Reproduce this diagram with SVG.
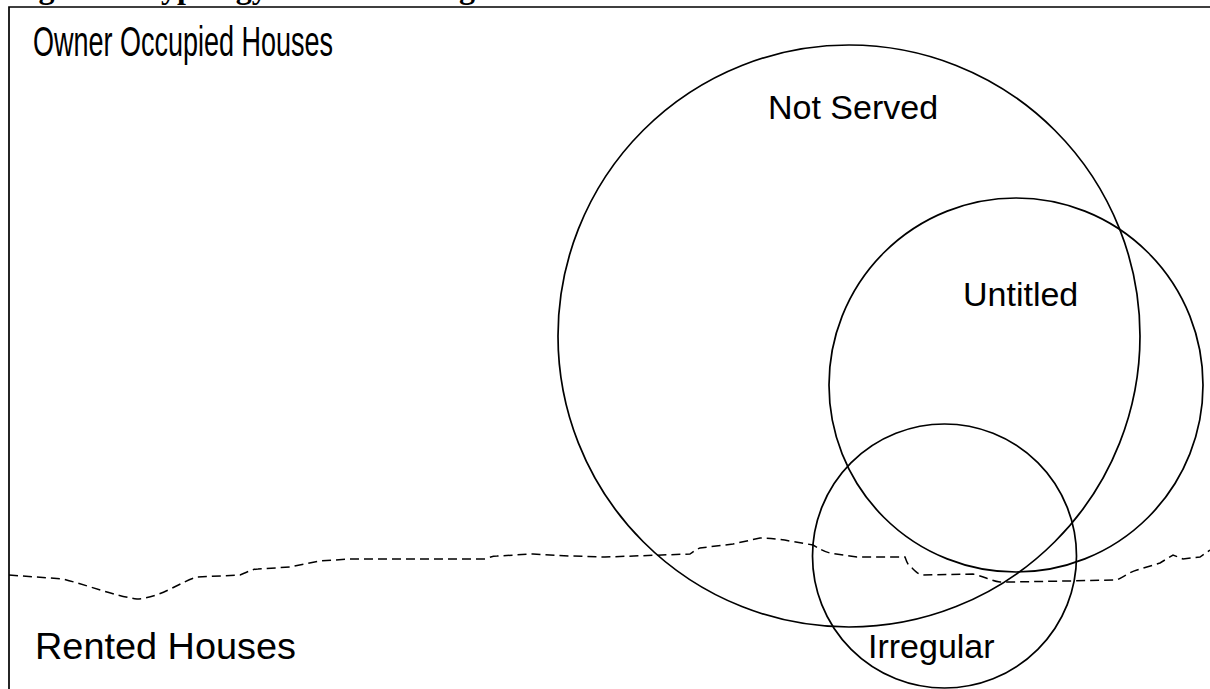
<svg xmlns="http://www.w3.org/2000/svg" width="1210" height="689" viewBox="0 0 1210 689">
<style>
.lbl{font-family:"Liberation Sans",Arial,sans-serif;font-size:34px;fill:#000}
.title{font-family:"Liberation Serif","Times New Roman",serif;font-weight:bold;font-size:32px;fill:#000}
.set{fill:none;stroke:#000;stroke-width:1.7}
.frame{fill:none;stroke:#000;stroke-width:1.7}
.divider{fill:none;stroke:#000;stroke-width:1.5;stroke-dasharray:9 5}
</style>
<rect width="1210" height="689" fill="#fff"/>
<text class="title" x="10" y="-2">Figure 4: Typology of the Housing</text>
<g id="frame">
<path class="frame" d="M9,689 V7 H1210"/>
</g>
<g id="connectors">
<path class="divider" d="M9,575 L63,579 C90,586 115,596 137,599 C160,598 180,582 197,577 L240,575 C248,572 252,569 258,569 L290,567 L320,561 L350,559 L400,559 L485,559 C490,557 493,556 497,556 L533,554 L570,556 L605,557 L690,554 C694,551 697,549 700,548 L733,544 L760,538 C775,538 790,541 813,545 C820,549 825,552 830,553 L857,557 L905,557 C907,563 909,567 912,568 C916,572 919,575 923,575 L973,574 C985,577 992,581 1000,582 L1013,582 L1117,580 C1125,576 1130,572 1137,570 L1160,563 L1173,555 L1183,559 L1200,557 L1210,550"/>
</g>
<g id="owner">
<text class="lbl" x="33" y="56" style="font-size:42px" textLength="300" lengthAdjust="spacingAndGlyphs">Owner Occupied Houses</text>
</g>
<g id="rented">
<text class="lbl" x="35" y="659" style="font-size:36px" textLength="261" lengthAdjust="spacingAndGlyphs">Rented Houses</text>
</g>
<g id="not-served">
<circle class="set" cx="849" cy="336" r="291"/>
<text class="lbl" x="768" y="119">Not Served</text>
</g>
<g id="untitled">
<circle class="set" cx="1016" cy="385" r="187"/>
<text class="lbl" x="963" y="306">Untitled</text>
</g>
<g id="irregular">
<circle class="set" cx="944.5" cy="556" r="132"/>
<text class="lbl" x="868" y="658">Irregular</text>
</g>
</svg>
